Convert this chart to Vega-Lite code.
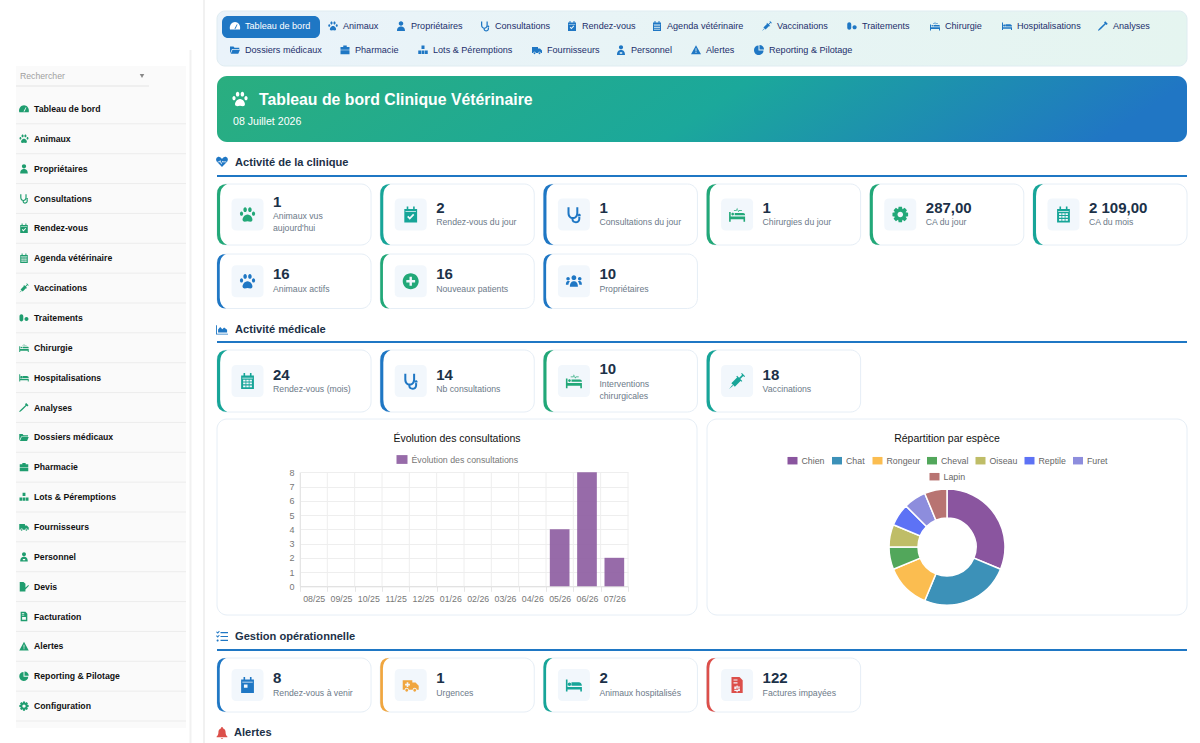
{
  "$schema": "https://vega.github.io/schema/vega-lite/v6.json",
  "background": "#ffffff",
  "padding": 0,
  "bounds": "flush",
  "spacing": 0,
  "config": {
    "font": "Liberation Sans",
    "view": {"stroke": null},
    "point": {"opacity": 1},
    "scale": {"bandPaddingInner": 0, "bandPaddingOuter": 0},
    "range": {
      "category": ["#ffffff", "#1f77c4", "#f0a63f", "#dc4f4a", "#17a598", "#22a878"],
      "symbol": [
        "M-1,-.6H.2V-.3H.6L1,.1V.6H.75A.25,.25 0 0 0 .25,.6H-.25A.25,.25 0 0 0 -.75,.6H-1ZM-.5,-.35V-.15H-.7V.05H-.5V.25H-.3V.05H-.1V-.15H-.3V-.35ZM-.68,.65A.18,.18 0 1 0 -.32,.65A.18,.18 0 1 0 -.68,.65ZM.32,.65A.18,.18 0 1 0 .68,.65A.18,.18 0 1 0 .32,.65Z",
        "M.45,-.95L.95,-.45L.7,-.2L.55,-.35L-.4,.6L-.8,.9L-1,.95L-.95,.75L-.6,.35L.35,-.55L.2,-.7Z",
        "M-1,-.7H-.8V.25H1V.8H.8V.55H-.8V.8H-1ZM-.3,-.35H.6C.85,-.35 1,-.15 1,.1H-.3ZM-.77,-.1A.22,.22 0 1 0 -.33,-.1A.22,.22 0 1 0 -.77,-.1Z",
        "M-1,-.3H-.8V.25H1V.9H.8V.6H-.8V.9H-1ZM-.3,-.2H.75C.9,-.2 1,-.1 1,.1H-.3ZM-.72,-.05A.17,.17 0 1 0 -.38,-.05A.17,.17 0 1 0 -.72,-.05ZM-.4,-.55H-.1L0,-.85L.15,-.45L.25,-.55H.6V-.47H.3L.15,-.3L0,-.65L-.05,-.47H-.4Z",
        "M0,-1C.1,-1 .15,-.9 .15,-.8C.5,-.7 .6,-.4 .6,-.1C.6,.25 .75,.45 .9,.6V.72H-.9V.6C-.75,.45 -.6,.25 -.6,-.1C-.6,-.4 -.5,-.7 -.15,-.8C-.15,-.9 -.1,-1 0,-1ZM-.2,.82H.2C.2,1 -.2,1 -.2,.82Z",
        "M-.8,-.7H-.5V-1H-.3V-.7H.3V-1H.5V-.7H.8V1H-.8ZM-.65,-.4V-.3H.65V-.4ZM-.45,.3L-.12,.65L.45,.05L.3,-.1L-.12,.35L-.3,.15Z",
        "M-.8,-.7H-.5V-1H-.3V-.7H.3V-1H.5V-.7H.8V1H-.8ZM-.65,-.4V-.3H.65V-.4ZM-.45,-.05V.35H0V-.05Z",
        "M-.8,-.7H-.5V-1H-.3V-.7H.3V-1H.5V-.7H.8V1H-.8ZM-.65,-.4V-.3H.65V-.4ZM-.55,-.15V.07H-.25V-.15ZM-.15,-.15V.07H.15V-.15ZM.25,-.15V.07H.55V-.15ZM-.55,.2V.42H-.25V.2ZM-.15,.2V.42H.15V.2ZM.25,.2V.42H.55V.2ZM-.55,.55V.77H-.25V.55ZM-.15,.55V.77H.15V.55ZM.25,.55V.77H.55V.55Z",
        "M-1,-.7H-.85V.7H1V.85H-1ZM-.65,.5V0L-.3,-.4L.05,-.05L.35,-.35L.85,.05V.5Z",
        "M.668,-.27L.978,-.208L.978,.208L.668,.27L.663,.281L.839,.545L.545,.839L.281,.663L.27,.668L.208,.978L-.208,.978L-.27,.668L-.281,.663L-.545,.839L-.839,.545L-.663,.281L-.668,.27L-.978,.208L-.978,-.208L-.668,-.27L-.663,-.281L-.839,-.545L-.545,-.839L-.281,-.663L-.27,-.668L-.208,-.978L.208,-.978L.27,-.668L.281,-.663L.545,-.839L.839,-.545L.663,-.281ZM-.35,0A.35,.35 0 1 0 .35,0A.35,.35 0 1 0 -.35,0Z",
        "M-.3,-.9H.3V-.2H-.3ZM-.95,.1H-.35V.8H-.95ZM.35,.1H.95V.8H.35ZM-.25,.1H.25V.8H-.25Z",
        "M-.42,-.55A.42,.42 0 1 0 .42,-.55A.42,.42 0 1 0 -.42,-.55ZM-.8,1C-.8,.2 -.4,0 0,0C.4,0 .8,.2 .8,1ZM-.25,.45V.75H.25V.45Z",
        "M-1,-.7H-.3L-.1,-.45H.85V-.2H-.6L-1,.7ZM-.5,-.05H1L.65,.75H-.85Z",
        "M-1,.7C-1.2,-.2 -.6,-.8 0,-.8C.6,-.8 1.2,-.2 1,.7ZM-.12,.55L.12,.55L.5,-.3L.38,-.35Z",
        "M0,.85L-.85,-.05C-1.2,-.5 -.8,-.9 -.45,-.85C-.2,-.8 -.05,-.6 0,-.5C.05,-.6 .2,-.8 .45,-.85C.8,-.9 1.2,-.5 .85,-.05ZM-.72,-.1V.05H-.38L-.33,-.1L-.12,.4L.06,-.02L.12,.05H.72V-.1H.2L.1,-.2L-.1,.2L-.3,-.35L-.45,-.1Z",
        "M-.7,-1H.3L.7,-.6V1H-.7ZM-.45,-.7V-.55H.05V-.7ZM-.45,-.35V-.2H.05V-.35ZM-.4,.1V.7H.4V.1Z",
        "M-.7,-1H.3L.7,-.6V1H-.7ZM-.45,-.7V-.55H.05V-.7ZM-.45,-.35V-.2H.05V-.35ZM-.07,.05V.2H-.35V.5H.15V.6H-.35V.75H-.07V.9H.07V.75H.35V.45H-.15V.35H.35V.2H.07V.05Z",
        "M-.35,-.9H.35V-.6H.9V-.05H-.9V-.6H-.35ZM-.9,.05H.9V.85H-.9Z",
        "M-.25,-.75H1V-.55H-.25ZM-.25,-.1H1V.1H-.25ZM-.25,.55H1V.75H-.25ZM-1,-.75L-.85,-.85L-.7,-.7L-.5,-.95L-.38,-.85L-.7,-.45ZM-1,-.1L-.85,-.2L-.7,-.05L-.5,-.3L-.38,-.2L-.7,.2ZM-.9,.65A.17,.17 0 1 0 -.56,.65A.17,.17 0 1 0 -.9,.65Z",
        "M-.95,-.1A.2,.27 0 1 0 -.55,-.1A.2,.27 0 1 0 -.95,-.1ZM-.52,-.6A.22,.3 0 1 0 -.08,-.6A.22,.3 0 1 0 -.52,-.6ZM.08,-.6A.22,.3 0 1 0 .52,-.6A.22,.3 0 1 0 .08,-.6ZM.55,-.1A.2,.27 0 1 0 .95,-.1A.2,.27 0 1 0 .55,-.1ZM0,0C.4,0 .7,.5 .6,.75C.5,1 .2,.85 0,.85C-.2,.85 -.5,1 -.6,.75C-.7,.5 -.4,0 0,0Z",
        "M-.1,-.9V.1H.9C.9,.65 .45,1 -.1,1C-.65,1 -1,.55 -1,0C-1,-.5 -.6,-.9 -.1,-.9ZM.1,-1C.6,-1 1,-.6 1,-.1H.1Z",
        "M-.95,-.35A.4,.4 0 0 1 -.15,-.35V.35A.4,.4 0 0 1 -.95,.35ZM.1,.25A.42,.42 0 1 0 .94,.25A.42,.42 0 1 0 .1,.25Z",
        "M-1,0A1,1 0 1 1 1,0A1,1 0 1 1 -1,0ZM-.15,-.55V-.15H-.55V.15H-.15V.55H.15V.15H.55V-.15H.15V-.55Z",
        "M-.9,-1H-.1L.3,-.6V1H-.9ZM.9,-.35L1.05,-.2L.15,.75L-.1,.8L-.05,.55Z",
        "M-.8,-.9H-.55V-.2C-.55,.5 .3,.5 .3,-.2V-.9H.55V-.2C.55,.8 -.8,.8 -.8,-.2ZM-.3,.5H-.05V.6C-.05,.95 .55,.95 .55,.55V.2H.8V.55C.8,1.25 -.3,1.25 -.3,.6ZM.5,.1A.18,.18 0 1 0 .86,.1A.18,.18 0 1 0 .5,.1Z",
        "M.08,-.52L.52,-.08L-.28,.72L-.72,.28ZM-.6,.5L-.5,.6L-1,1ZM.23,-.37L.73,-.87L.87,-.73L.37,-.23ZM.6,-1L1,-.6L.9,-.5L.5,-.9ZM0,-.65L.65,0L.55,.1L-.1,-.55Z",
        "M0,-.95L1,.85H-1ZM-.08,-.35V.3H.08V-.35ZM-.08,.42V.62H.08V.42Z",
        "M-1,-.6H.2V-.3H.6L1,.1V.6H.75A.25,.25 0 0 0 .25,.6H-.25A.25,.25 0 0 0 -.75,.6H-1ZM-.68,.65A.18,.18 0 1 0 -.32,.65A.18,.18 0 1 0 -.68,.65ZM.32,.65A.18,.18 0 1 0 .68,.65A.18,.18 0 1 0 .32,.65Z",
        "M-.45,-.5A.45,.45 0 1 0 .45,-.5A.45,.45 0 1 0 -.45,-.5ZM-.8,1C-.8,.3 -.4,.1 0,.1C.4,.1 .8,.3 .8,1Z",
        "M-.3,-.45A.3,.3 0 1 0 .3,-.45A.3,.3 0 1 0 -.3,-.45ZM-.5,.7C-.5,.15 -.25,0 0,0C.25,0 .5,.15 .5,.7ZM-.95,-.3A.22,.22 0 1 0 -.51,-.3A.22,.22 0 1 0 -.95,-.3ZM.51,-.3A.22,.22 0 1 0 .95,-.3A.22,.22 0 1 0 .51,-.3ZM-1,.45C-1,.05 -.85,-.02 -.7,-.02C-.62,-.02 -.55,0 -.5,.02C-.62,.15 -.68,.28 -.68,.45ZM1,.45C1,.05 .85,-.02 .7,-.02C.62,-.02 .55,0 .5,.02C.62,.15 .68,.28 .68,.45Z"
      ]
    },
    "style": {
      "carte": {"stroke": "#e6eef6", "strokeWidth": 1, "cornerRadius": 10},
      "valeur": {"fontSize": 15, "fontWeight": "bold", "align": "left", "baseline": "middle"},
      "libelle": {"fontSize": 8.7, "align": "left", "baseline": "middle", "lineBreak": "\n", "lineHeight": 12},
      "section": {"fontSize": 11.1, "fontWeight": "bold", "align": "left", "baseline": "middle"},
      "menu": {"fontSize": 8.7, "fontWeight": "bold", "align": "left", "baseline": "middle"}
    }
  },
  "datasets": {
    "menu": [
      {"libelle": "Tableau de bord", "icone": "gauge"},
      {"libelle": "Animaux", "icone": "paw"},
      {"libelle": "Propriétaires", "icone": "user"},
      {"libelle": "Consultations", "icone": "stetho"},
      {"libelle": "Rendez-vous", "icone": "calcheck"},
      {"libelle": "Agenda vétérinaire", "icone": "caldays"},
      {"libelle": "Vaccinations", "icone": "syringe"},
      {"libelle": "Traitements", "icone": "pills"},
      {"libelle": "Chirurgie", "icone": "bedpulse"},
      {"libelle": "Hospitalisations", "icone": "bed"},
      {"libelle": "Analyses", "icone": "analyses"},
      {"libelle": "Dossiers médicaux", "icone": "folder"},
      {"libelle": "Pharmacie", "icone": "kit"},
      {"libelle": "Lots & Péremptions", "icone": "cubes"},
      {"libelle": "Fournisseurs", "icone": "truck"},
      {"libelle": "Personnel", "icone": "doctor"},
      {"libelle": "Devis", "icone": "quote"},
      {"libelle": "Facturation", "icone": "invoice"},
      {"libelle": "Alertes", "icone": "triangle"},
      {"libelle": "Reporting & Pilotage", "icone": "pie"},
      {"libelle": "Configuration", "icone": "cog"}
    ],
    "onglets": [
      {"ordre": 0, "fin": 1, "rangee": "haut", "libelle": "Tableau de bord", "icone": "gauge", "ton": "blanc"},
      {"ordre": 1, "rangee": "haut", "libelle": "Animaux", "icone": "paw", "ton": "bleu"},
      {"ordre": 2, "rangee": "haut", "libelle": "Propriétaires", "icone": "user", "ton": "bleu"},
      {"ordre": 3, "rangee": "haut", "libelle": "Consultations", "icone": "stetho", "ton": "bleu"},
      {"ordre": 4, "rangee": "haut", "libelle": "Rendez-vous", "icone": "calcheck", "ton": "bleu"},
      {"ordre": 5, "rangee": "haut", "libelle": "Agenda vétérinaire", "icone": "caldays", "ton": "bleu"},
      {"ordre": 6, "rangee": "haut", "libelle": "Vaccinations", "icone": "syringe", "ton": "bleu"},
      {"ordre": 7, "rangee": "haut", "libelle": "Traitements", "icone": "pills", "ton": "bleu"},
      {"ordre": 8, "rangee": "haut", "libelle": "Chirurgie", "icone": "bedpulse", "ton": "bleu"},
      {"ordre": 9, "rangee": "haut", "libelle": "Hospitalisations", "icone": "bed", "ton": "bleu"},
      {"ordre": 10, "rangee": "haut", "libelle": "Analyses", "icone": "analyses", "ton": "bleu"},
      {"ordre": 11, "rangee": "bas", "libelle": "Dossiers médicaux", "icone": "folder", "ton": "bleu"},
      {"ordre": 12, "rangee": "bas", "libelle": "Pharmacie", "icone": "kit", "ton": "bleu"},
      {"ordre": 13, "rangee": "bas", "libelle": "Lots & Péremptions", "icone": "cubes", "ton": "bleu"},
      {"ordre": 14, "rangee": "bas", "libelle": "Fournisseurs", "icone": "truck", "ton": "bleu"},
      {"ordre": 15, "rangee": "bas", "libelle": "Personnel", "icone": "doctor", "ton": "bleu"},
      {"ordre": 16, "rangee": "bas", "libelle": "Alertes", "icone": "triangle", "ton": "bleu"},
      {"ordre": 17, "rangee": "bas", "libelle": "Reporting & Pilotage", "icone": "pie", "ton": "bleu"}
    ],
    "cartes": [
      {"bloc": "a", "rang": 1, "valeur": "1", "libelle": "Animaux vus\naujourd'hui", "icone": "paw", "ton": "vert"},
      {"bloc": "a", "rang": 2, "valeur": "2", "libelle": "Rendez-vous du jour", "icone": "calcheck", "ton": "sarcelle"},
      {"bloc": "a", "rang": 3, "valeur": "1", "libelle": "Consultations du jour", "icone": "stetho", "ton": "bleu"},
      {"bloc": "a", "rang": 4, "valeur": "1", "libelle": "Chirurgies du jour", "icone": "bedpulse", "ton": "vert"},
      {"bloc": "a", "rang": 5, "valeur": "287,00", "libelle": "CA du jour", "icone": "cog", "ton": "vert"},
      {"bloc": "a", "rang": 6, "valeur": "2 109,00", "libelle": "CA du mois", "icone": "caldays", "ton": "sarcelle"},
      {"bloc": "b", "rang": 1, "valeur": "16", "libelle": "Animaux actifs", "icone": "paw", "ton": "bleu"},
      {"bloc": "b", "rang": 2, "valeur": "16", "libelle": "Nouveaux patients", "icone": "plus", "ton": "vert"},
      {"bloc": "b", "rang": 3, "valeur": "10", "libelle": "Propriétaires", "icone": "users", "ton": "bleu"},
      {"bloc": "c", "rang": 1, "valeur": "24", "libelle": "Rendez-vous (mois)", "icone": "caldays", "ton": "sarcelle"},
      {"bloc": "c", "rang": 2, "valeur": "14", "libelle": "Nb consultations", "icone": "stetho", "ton": "bleu"},
      {"bloc": "c", "rang": 3, "valeur": "10", "libelle": "Interventions\nchirurgicales", "icone": "bedpulse", "ton": "vert"},
      {"bloc": "c", "rang": 4, "valeur": "18", "libelle": "Vaccinations", "icone": "syringe", "ton": "sarcelle"},
      {"bloc": "d", "rang": 1, "valeur": "8", "libelle": "Rendez-vous à venir", "icone": "calday", "ton": "bleu"},
      {"bloc": "d", "rang": 2, "valeur": "1", "libelle": "Urgences", "icone": "ambulance", "ton": "orange"},
      {"bloc": "d", "rang": 3, "valeur": "2", "libelle": "Animaux hospitalisés", "icone": "bed", "ton": "sarcelle"},
      {"bloc": "d", "rang": 4, "valeur": "122", "libelle": "Factures impayées", "icone": "invoicedollar", "ton": "rouge"}
    ],
    "consultations": [
      {"mois": "08/25", "consultations": 0, "serie": "Évolution des consultations"},
      {"mois": "09/25", "consultations": 0, "serie": "Évolution des consultations"},
      {"mois": "10/25", "consultations": 0, "serie": "Évolution des consultations"},
      {"mois": "11/25", "consultations": 0, "serie": "Évolution des consultations"},
      {"mois": "12/25", "consultations": 0, "serie": "Évolution des consultations"},
      {"mois": "01/26", "consultations": 0, "serie": "Évolution des consultations"},
      {"mois": "02/26", "consultations": 0, "serie": "Évolution des consultations"},
      {"mois": "03/26", "consultations": 0, "serie": "Évolution des consultations"},
      {"mois": "04/26", "consultations": 0, "serie": "Évolution des consultations"},
      {"mois": "05/26", "consultations": 4, "serie": "Évolution des consultations"},
      {"mois": "06/26", "consultations": 8, "serie": "Évolution des consultations"},
      {"mois": "07/26", "consultations": 2, "serie": "Évolution des consultations"}
    ],
    "especes": [
      {"ordre": 0, "espece": "Chien", "animaux": 5},
      {"ordre": 1, "espece": "Chat", "animaux": 4},
      {"ordre": 2, "espece": "Rongeur", "animaux": 2},
      {"ordre": 3, "espece": "Cheval", "animaux": 1},
      {"ordre": 4, "espece": "Oiseau", "animaux": 1},
      {"ordre": 5, "espece": "Reptile", "animaux": 1},
      {"ordre": 6, "espece": "Furet", "animaux": 1},
      {"ordre": 7, "espece": "Lapin", "animaux": 1}
    ]
  },
  "hconcat": [
    {"data": {"values": []}, "mark": "rect", "width": 16, "height": 743},
    {
      "width": 170,
      "height": 743,
      "resolve": {"scale": {"y": "independent"}},
      "layer": [
        {
          "data": {"values": [{"zone": "panneau"}]},
          "mark": {"type": "rect", "fill": "#fafafa"},
          "encoding": {"y": {"field": "zone", "type": "nominal", "axis": null, "scale": {"type": "band", "range": [66, 728]}}}
        },
        {
          "data": {"values": [{"zone": "Rechercher"}]},
          "encoding": {"y": {"field": "zone", "type": "nominal", "axis": null, "scale": {"type": "band", "range": [66, 86]}}},
          "layer": [
            {"mark": {"type": "text", "fontSize": 8.7, "fill": "#a0a0a0", "align": "left", "baseline": "middle", "dx": -81}, "encoding": {"text": {"field": "zone"}}},
            {"mark": {"type": "point", "shape": "triangle-down", "filled": true, "fill": "#888888", "size": 20, "xOffset": 41}},
            {
              "mark": {"type": "rule", "stroke": "#e4e4e4", "strokeWidth": 1},
              "encoding": {
                "y": {"field": "zone", "type": "nominal", "axis": null, "bandPosition": 1},
                "x": {"datum": 0, "type": "quantitative", "axis": null, "scale": {"domain": [0, 1], "range": [0, 133]}},
                "x2": {"datum": 1}
              }
            }
          ]
        },
        {
          "data": {"name": "menu"},
          "encoding": {"y": {"field": "libelle", "type": "nominal", "sort": null, "axis": null, "scale": {"type": "band", "range": [94, 721]}}},
          "layer": [
            {
              "mark": {"type": "rule", "stroke": "#ececec", "strokeWidth": 1},
              "encoding": {"y": {"field": "libelle", "type": "nominal", "sort": null, "axis": null, "bandPosition": 1}}
            },
            {
              "mark": {"type": "point", "filled": true, "fill": "#1f9d6f", "strokeWidth": 0, "size": 90, "xOffset": -77},
              "encoding": {"shape": {"field": "icone", "type": "nominal", "legend": null}}
            },
            {"mark": {"type": "text", "style": "menu", "fill": "#111111", "dx": -67}, "encoding": {"text": {"field": "libelle"}}}
          ]
        }
      ]
    },
    {
      "data": {"values": [{"zone": "bord"}]},
      "width": 14,
      "height": 743,
      "mark": {"type": "rect", "fill": "#f1f1f1"},
      "encoding": {
        "x": {"field": "zone", "type": "nominal", "axis": null, "scale": {"type": "band", "range": [3.5, 5.5]}},
        "y": {"field": "zone", "type": "nominal", "axis": null, "scale": {"type": "band", "range": [50, 743]}}
      }
    },
    {
      "data": {"values": [{"zone": "bord"}]},
      "width": 17,
      "height": 743,
      "mark": {"type": "rect", "fill": "#f1f1f1"},
      "encoding": {"x": {"field": "zone", "type": "nominal", "axis": null, "scale": {"type": "band", "range": [3, 5]}}}
    },
    {
      "vconcat": [
        {"data": {"values": []}, "mark": "rect", "width": 970, "height": 11},
        {
          "width": 970,
          "height": 55,
          "layer": [
            {
              "data": {"values": [{"zone": "navigation"}]},
              "mark": {
                "type": "rect",
                "cornerRadius": 8,
                "stroke": "#dfecf1",
                "strokeWidth": 1,
                "fill": {
                  "gradient": "linear",
                  "x1": 0, "y1": 0, "x2": 1, "y2": 0,
                  "stops": [{"offset": 0, "color": "#eaf3fa"}, {"offset": 1, "color": "#e5f5f0"}]
                }
              }
            },
            {
              "data": {"name": "onglets"},
              "encoding": {
                "x": {
                  "field": "ordre",
                  "type": "quantitative",
                  "axis": null,
                  "scale": {
                    "domain": [0, 1, 2, 3, 4, 5, 6, 7, 8, 9, 10, 11, 12, 13, 14, 15, 16, 17],
                    "range": [5, 103, 171, 255, 342, 427, 537, 622, 705, 777, 873, 5, 115, 193, 307, 391, 466, 529]
                  }
                },
                "y": {
                  "field": "rangee",
                  "type": "nominal",
                  "axis": null,
                  "scale": {"type": "band", "domain": ["haut", "bas"], "range": [3, 51]}
                }
              },
              "layer": [
                {
                  "transform": [{"filter": "isValid(datum.fin)"}],
                  "mark": {"type": "rect", "fill": "#1f77c4", "cornerRadius": 6, "height": 22, "yOffset": 1},
                  "encoding": {"x2": {"field": "fin"}}
                },
                {
                  "mark": {"type": "point", "filled": true, "strokeWidth": 0, "size": 100, "xOffset": 13},
                  "encoding": {
                    "shape": {"field": "icone", "type": "nominal", "legend": null},
                    "fill": {"field": "ton", "type": "nominal", "legend": null}
                  }
                },
                {
                  "mark": {"type": "text", "fontSize": 9.1, "align": "left", "baseline": "middle", "dx": 23},
                  "encoding": {
                    "text": {"field": "libelle"},
                    "color": {"condition": {"test": "isValid(datum.fin)", "value": "#ffffff"}, "value": "#1c2f6b"}
                  }
                }
              ]
            }
          ]
        },
        {"data": {"values": []}, "mark": "rect", "width": 970, "height": 10},
        {
          "width": 970,
          "height": 66,
          "data": {"values": [{"titre": "Tableau de bord Clinique Vétérinaire", "date": "08 Juillet 2026", "icone": "paw", "ton": "blanc"}]},
          "layer": [
            {
              "mark": {
                "type": "rect",
                "cornerRadius": 10,
                "fill": {
                  "gradient": "linear",
                  "x1": 0, "y1": 0, "x2": 1, "y2": 0.1,
                  "stops": [
                    {"offset": 0, "color": "#2aae7f"},
                    {"offset": 0.55, "color": "#1ba89b"},
                    {"offset": 1, "color": "#2076c4"}
                  ]
                }
              }
            },
            {
              "mark": {"type": "point", "filled": true, "strokeWidth": 0, "size": 256, "xOffset": -462, "yOffset": -10},
              "encoding": {
                "shape": {"field": "icone", "type": "nominal", "legend": null},
                "fill": {"field": "ton", "type": "nominal", "legend": null}
              }
            },
            {
              "mark": {"type": "text", "fontSize": 15.8, "fontWeight": "bold", "fill": "#ffffff", "align": "left", "baseline": "middle", "dx": -443, "dy": -9},
              "encoding": {"text": {"field": "titre"}}
            },
            {
              "mark": {"type": "text", "fontSize": 10.6, "fill": "#ffffff", "align": "left", "baseline": "middle", "dx": -469, "dy": 12.5},
              "encoding": {"text": {"field": "date"}}
            }
          ]
        },
        {"data": {"values": []}, "mark": "rect", "width": 970, "height": 6},
        {
          "width": 970,
          "height": 28,
          "data": {"values": [{"titre": "Activité de la clinique", "icone": "heartpulse", "ton": "bleu"}]},
          "layer": [
            {
              "mark": {"type": "rule", "stroke": "#1f77c4", "strokeWidth": 2},
              "encoding": {"y": {"field": "titre", "type": "nominal", "axis": null, "bandPosition": 1, "scale": {"type": "band"}}}
            },
            {
              "mark": {"type": "point", "filled": true, "strokeWidth": 0, "size": 144, "xOffset": -480},
              "encoding": {
                "shape": {"field": "icone", "type": "nominal", "legend": null},
                "fill": {"field": "ton", "type": "nominal", "legend": null}
              }
            },
            {"mark": {"type": "text", "style": "section", "fill": "#1c3148", "dx": -467, "dy": 0.5}, "encoding": {"text": {"field": "titre"}}}
          ]
        },
        {"data": {"values": []}, "mark": "rect", "width": 970, "height": 8},
        {
          "width": 970,
          "height": 61,
          "data": {"name": "cartes"},
          "transform": [{"filter": "datum.bloc == 'a'"}],
          "encoding": {"x": {"field": "rang", "type": "ordinal", "axis": null, "scale": {"type": "band", "domain": [1, 2, 3, 4, 5, 6], "paddingInner": 0.056}}},
          "layer": [
            {"mark": {"type": "rect", "style": "carte", "fill": "#ffffff"}},
            {
              "mark": {"type": "point", "filled": true, "strokeWidth": 0, "size": 3720, "xOffset": -77, "shape": "M.33,-1Q0,-1 0,-.67V.67Q0,1 .33,1Q.1,.9 .1,.6V-.6Q.1,-.9 .33,-1Z"},
              "encoding": {"fill": {"field": "ton", "type": "nominal", "legend": null}}
            },
            {"mark": {"type": "point", "filled": true, "strokeWidth": 0, "size": 1024, "xOffset": -46.5, "fill": "#f2f7fc", "shape": "M-.7,-1H.7Q1,-1 1,-.7V.7Q1,1 .7,1H-.7Q-1,1 -1,.7V-.7Q-1,-1 -.7,-1Z"}},
            {
              "mark": {"type": "point", "filled": true, "strokeWidth": 0, "size": 256, "xOffset": -46.5},
              "encoding": {
                "shape": {"field": "icone", "type": "nominal", "legend": null},
                "fill": {"field": "ton", "type": "nominal", "legend": null}
              }
            },
            {
              "transform": [{"filter": "indexof(datum.libelle, '\\n') < 0"}],
              "layer": [
                {"mark": {"type": "text", "style": "valeur", "fill": "#1c3148", "dx": -21, "dy": -7}, "encoding": {"text": {"field": "valeur"}}},
                {"mark": {"type": "text", "style": "libelle", "fill": "#6c7a89", "dx": -21, "dy": 7.5}, "encoding": {"text": {"field": "libelle"}}}
              ]
            },
            {
              "transform": [{"filter": "indexof(datum.libelle, '\\n') >= 0"}],
              "layer": [
                {"mark": {"type": "text", "style": "valeur", "fill": "#1c3148", "dx": -21, "dy": -12.5}, "encoding": {"text": {"field": "valeur"}}},
                {"mark": {"type": "text", "style": "libelle", "fill": "#6c7a89", "dx": -21, "dy": 1.5}, "encoding": {"text": {"field": "libelle"}}}
              ]
            }
          ]
        },
        {"data": {"values": []}, "mark": "rect", "width": 970, "height": 9},
        {
          "width": 970,
          "height": 54.5,
          "data": {"name": "cartes"},
          "transform": [{"filter": "datum.bloc == 'b'"}],
          "encoding": {"x": {"field": "rang", "type": "ordinal", "axis": null, "scale": {"type": "band", "domain": [1, 2, 3, 4, 5, 6], "paddingInner": 0.056}}},
          "layer": [
            {"mark": {"type": "rect", "style": "carte", "fill": "#ffffff"}},
            {
              "mark": {"type": "point", "filled": true, "strokeWidth": 0, "size": 2960, "xOffset": -77, "shape": "M.33,-1Q0,-1 0,-.67V.67Q0,1 .33,1Q.1,.9 .1,.6V-.6Q.1,-.9 .33,-1Z"},
              "encoding": {"fill": {"field": "ton", "type": "nominal", "legend": null}}
            },
            {"mark": {"type": "point", "filled": true, "strokeWidth": 0, "size": 1024, "xOffset": -46.5, "fill": "#f2f7fc", "shape": "M-.7,-1H.7Q1,-1 1,-.7V.7Q1,1 .7,1H-.7Q-1,1 -1,.7V-.7Q-1,-1 -.7,-1Z"}},
            {
              "mark": {"type": "point", "filled": true, "strokeWidth": 0, "size": 256, "xOffset": -46.5},
              "encoding": {
                "shape": {"field": "icone", "type": "nominal", "legend": null},
                "fill": {"field": "ton", "type": "nominal", "legend": null}
              }
            },
            {"mark": {"type": "text", "style": "valeur", "fill": "#1c3148", "dx": -21, "dy": -7}, "encoding": {"text": {"field": "valeur"}}},
            {"mark": {"type": "text", "style": "libelle", "fill": "#6c7a89", "dx": -21, "dy": 7.5}, "encoding": {"text": {"field": "libelle"}}}
          ]
        },
        {"data": {"values": []}, "mark": "rect", "width": 970, "height": 8},
        {
          "width": 970,
          "height": 25,
          "data": {"values": [{"titre": "Activité médicale", "icone": "chartarea", "ton": "bleu"}]},
          "layer": [
            {
              "mark": {"type": "rule", "stroke": "#1f77c4", "strokeWidth": 2},
              "encoding": {"y": {"field": "titre", "type": "nominal", "axis": null, "bandPosition": 1, "scale": {"type": "band"}}}
            },
            {
              "mark": {"type": "point", "filled": true, "strokeWidth": 0, "size": 144, "xOffset": -480},
              "encoding": {
                "shape": {"field": "icone", "type": "nominal", "legend": null},
                "fill": {"field": "ton", "type": "nominal", "legend": null}
              }
            },
            {"mark": {"type": "text", "style": "section", "fill": "#1c3148", "dx": -467}, "encoding": {"text": {"field": "titre"}}}
          ]
        },
        {"data": {"values": []}, "mark": "rect", "width": 970, "height": 8},
        {
          "width": 970,
          "height": 62,
          "data": {"name": "cartes"},
          "transform": [{"filter": "datum.bloc == 'c'"}],
          "encoding": {"x": {"field": "rang", "type": "ordinal", "axis": null, "scale": {"type": "band", "domain": [1, 2, 3, 4, 5, 6], "paddingInner": 0.056}}},
          "layer": [
            {"mark": {"type": "rect", "style": "carte", "fill": "#ffffff"}},
            {
              "mark": {"type": "point", "filled": true, "strokeWidth": 0, "size": 3844, "xOffset": -77, "shape": "M.33,-1Q0,-1 0,-.67V.67Q0,1 .33,1Q.1,.9 .1,.6V-.6Q.1,-.9 .33,-1Z"},
              "encoding": {"fill": {"field": "ton", "type": "nominal", "legend": null}}
            },
            {"mark": {"type": "point", "filled": true, "strokeWidth": 0, "size": 1024, "xOffset": -46.5, "fill": "#f2f7fc", "shape": "M-.7,-1H.7Q1,-1 1,-.7V.7Q1,1 .7,1H-.7Q-1,1 -1,.7V-.7Q-1,-1 -.7,-1Z"}},
            {
              "mark": {"type": "point", "filled": true, "strokeWidth": 0, "size": 256, "xOffset": -46.5},
              "encoding": {
                "shape": {"field": "icone", "type": "nominal", "legend": null},
                "fill": {"field": "ton", "type": "nominal", "legend": null}
              }
            },
            {
              "transform": [{"filter": "indexof(datum.libelle, '\\n') < 0"}],
              "layer": [
                {"mark": {"type": "text", "style": "valeur", "fill": "#1c3148", "dx": -21, "dy": -6.5}, "encoding": {"text": {"field": "valeur"}}},
                {"mark": {"type": "text", "style": "libelle", "fill": "#6c7a89", "dx": -21, "dy": 8}, "encoding": {"text": {"field": "libelle"}}}
              ]
            },
            {
              "transform": [{"filter": "indexof(datum.libelle, '\\n') >= 0"}],
              "layer": [
                {"mark": {"type": "text", "style": "valeur", "fill": "#1c3148", "dx": -21, "dy": -12.5}, "encoding": {"text": {"field": "valeur"}}},
                {"mark": {"type": "text", "style": "libelle", "fill": "#6c7a89", "dx": -21, "dy": 2.5}, "encoding": {"text": {"field": "libelle"}}}
              ]
            }
          ]
        },
        {"data": {"values": []}, "mark": "rect", "width": 970, "height": 7},
        {
          "hconcat": [
            {
              "width": 480,
              "height": 196,
              "title": {"text": "Évolution des consultations", "fontSize": 10.5, "fontWeight": "normal", "color": "#111111", "orient": "top", "anchor": "middle", "frame": "group", "offset": -26},
              "layer": [
                {"data": {"values": [{"carte": "consultations"}]}, "mark": {"type": "rect", "style": "carte", "fill": "#ffffff", "fillOpacity": 0}},
                {
                  "data": {"name": "consultations"},
                  "encoding": {
                    "x": {
                      "field": "mois",
                      "type": "ordinal",
                      "sort": null,
                      "title": null,
                      "scale": {"type": "band", "range": [83, 411], "paddingInner": 0, "paddingOuter": 0},
                      "axis": {"grid": false, "tickBand": "extent", "labelAngle": 0, "labelFontSize": 8.8, "labelColor": "#777777", "tickColor": "#e6e6e6", "domainColor": "#dddddd", "tickSize": 5, "labelPadding": 3, "offset": -28.7, "labelOverlap": false}
                    },
                    "y": {
                      "field": "consultations",
                      "type": "quantitative",
                      "title": null,
                      "scale": {"domain": [0, 8], "range": [167.3, 53.3], "nice": false},
                      "axis": {"grid": true, "tickCount": 8, "labelFontSize": 9, "labelColor": "#777777", "gridColor": "#eeeeee", "tickColor": "#e6e6e6", "domainColor": "#dddddd", "tickSize": 0, "labelPadding": 6, "offset": -83}
                    }
                  },
                  "layer": [
                    {
                      "mark": {"type": "rule", "stroke": "#eeeeee", "strokeWidth": 1},
                      "encoding": {
                        "x": {"field": "mois", "type": "ordinal", "sort": null, "title": null, "bandPosition": 0},
                        "y": {"datum": 0, "type": "quantitative", "title": null},
                        "y2": {"datum": 8}
                      }
                    },
                    {
                      "transform": [{"filter": "datum.mois == '07/26'"}],
                      "mark": {"type": "rule", "stroke": "#eeeeee", "strokeWidth": 1},
                      "encoding": {
                        "x": {"field": "mois", "type": "ordinal", "sort": null, "title": null, "bandPosition": 1},
                        "y": {"datum": 0, "type": "quantitative", "title": null},
                        "y2": {"datum": 8}
                      }
                    },
                    {
                      "mark": {"type": "bar", "width": {"band": 0.72}, "opacity": 0.92},
                      "encoding": {
                        "color": {
                          "field": "serie",
                          "type": "nominal",
                          "scale": {"range": ["#8e5ea2"]},
                          "legend": {"orient": "none", "legendX": 178.5, "legendY": 34, "title": null, "symbolType": "M-1,-.8H1V.8H-1Z", "symbolSize": 121, "labelOffset": 3, "labelFontSize": 8.8, "labelColor": "#777777", "labelLimit": 200}
                        }
                      }
                    }
                  ]
                }
              ]
            },
            {
              "width": 480,
              "height": 196,
              "title": {"text": "Répartition par espèce", "fontSize": 10.5, "fontWeight": "normal", "color": "#111111", "orient": "top", "anchor": "middle", "frame": "group", "offset": -26},
              "layer": [
                {"data": {"values": [{"carte": "especes"}]}, "mark": {"type": "rect", "style": "carte", "fill": "#ffffff", "fillOpacity": 0}},
                {
                  "data": {"name": "especes"},
                  "encoding": {
                    "color": {
                      "field": "espece",
                      "type": "nominal",
                      "legend": null,
                      "scale": {
                        "domain": ["Chien", "Chat", "Rongeur", "Cheval", "Oiseau", "Reptile", "Furet", "Lapin"],
                        "range": ["#8a559f", "#3c91b8", "#fbbd50", "#52a75b", "#bfbd67", "#5d72f5", "#8d8ddd", "#b87472"]
                      }
                    }
                  },
                  "layer": [
                    {
                      "mark": {"type": "arc", "innerRadius": 29, "outerRadius": 58, "stroke": "#ffffff", "strokeWidth": 1.5, "yOffset": 30},
                      "encoding": {
                        "theta": {"field": "animaux", "type": "quantitative", "stack": true},
                        "order": {"field": "ordre", "type": "quantitative"}
                      }
                    },
                    {
                      "encoding": {
                        "x": {
                          "field": "ordre",
                          "type": "quantitative",
                          "axis": null,
                          "scale": {"domain": [0, 1, 2, 3, 4, 5, 6, 7], "range": [85.5, 130, 170.5, 225, 273.5, 322.5, 371, 227.5]}
                        },
                        "y": {
                          "field": "ordre",
                          "type": "quantitative",
                          "axis": null,
                          "scale": {"domain": [0, 6, 7], "range": [41.7, 41.7, 57.7]}
                        }
                      },
                      "layer": [
                        {"mark": {"type": "point", "filled": true, "strokeWidth": 0, "size": 100, "shape": "M-1,-.75H1V.75H-1Z", "opacity": 1}},
                        {
                          "mark": {"type": "text", "fontSize": 8.8, "align": "left", "baseline": "middle", "dx": 9},
                          "encoding": {"text": {"field": "espece"}, "color": {"value": "#666666"}}
                        }
                      ]
                    }
                  ]
                }
              ]
            }
          ],
          "spacing": 10,
          "bounds": "flush",
          "resolve": {"scale": {"color": "independent"}}
        },
        {"data": {"values": []}, "mark": "rect", "width": 970, "height": 203.5},
        {
          "width": 970,
          "height": 27,
          "data": {"values": [{"titre": "Gestion opérationnelle", "icone": "list", "ton": "bleu"}]},
          "layer": [
            {
              "mark": {"type": "rule", "stroke": "#1f77c4", "strokeWidth": 2},
              "encoding": {"y": {"field": "titre", "type": "nominal", "axis": null, "bandPosition": 1, "scale": {"type": "band"}}}
            },
            {
              "mark": {"type": "point", "filled": true, "strokeWidth": 0, "size": 144, "xOffset": -480},
              "encoding": {
                "shape": {"field": "icone", "type": "nominal", "legend": null},
                "fill": {"field": "ton", "type": "nominal", "legend": null}
              }
            },
            {"mark": {"type": "text", "style": "section", "fill": "#1c3148", "dx": -467}, "encoding": {"text": {"field": "titre"}}}
          ]
        },
        {"data": {"values": []}, "mark": "rect", "width": 970, "height": 7.5},
        {
          "width": 970,
          "height": 54,
          "data": {"name": "cartes"},
          "transform": [{"filter": "datum.bloc == 'd'"}],
          "encoding": {"x": {"field": "rang", "type": "ordinal", "axis": null, "scale": {"type": "band", "domain": [1, 2, 3, 4, 5, 6], "paddingInner": 0.056}}},
          "layer": [
            {"mark": {"type": "rect", "style": "carte", "fill": "#ffffff"}},
            {
              "mark": {"type": "point", "filled": true, "strokeWidth": 0, "size": 2916, "xOffset": -77, "shape": "M.33,-1Q0,-1 0,-.67V.67Q0,1 .33,1Q.1,.9 .1,.6V-.6Q.1,-.9 .33,-1Z"},
              "encoding": {"fill": {"field": "ton", "type": "nominal", "legend": null}}
            },
            {"mark": {"type": "point", "filled": true, "strokeWidth": 0, "size": 1024, "xOffset": -46.5, "fill": "#f2f7fc", "shape": "M-.7,-1H.7Q1,-1 1,-.7V.7Q1,1 .7,1H-.7Q-1,1 -1,.7V-.7Q-1,-1 -.7,-1Z"}},
            {
              "mark": {"type": "point", "filled": true, "strokeWidth": 0, "size": 256, "xOffset": -46.5},
              "encoding": {
                "shape": {"field": "icone", "type": "nominal", "legend": null},
                "fill": {"field": "ton", "type": "nominal", "legend": null}
              }
            },
            {"mark": {"type": "text", "style": "valeur", "fill": "#1c3148", "dx": -21, "dy": -7}, "encoding": {"text": {"field": "valeur"}}},
            {"mark": {"type": "text", "style": "libelle", "fill": "#6c7a89", "dx": -21, "dy": 8}, "encoding": {"text": {"field": "libelle"}}}
          ]
        },
        {"data": {"values": []}, "mark": "rect", "width": 970, "height": 9.5},
        {
          "width": 970,
          "height": 22,
          "data": {"values": [{"titre": "Alertes", "icone": "bell", "ton": "rouge"}]},
          "layer": [
            {
              "mark": {"type": "point", "filled": true, "strokeWidth": 0, "size": 144, "xOffset": -480},
              "encoding": {
                "shape": {"field": "icone", "type": "nominal", "legend": null},
                "fill": {"field": "ton", "type": "nominal", "legend": null}
              }
            },
            {"mark": {"type": "text", "style": "section", "fill": "#1c3148", "dx": -468}, "encoding": {"text": {"field": "titre"}}}
          ]
        }
      ],
      "spacing": 0,
      "bounds": "flush"
    }
  ]
}
